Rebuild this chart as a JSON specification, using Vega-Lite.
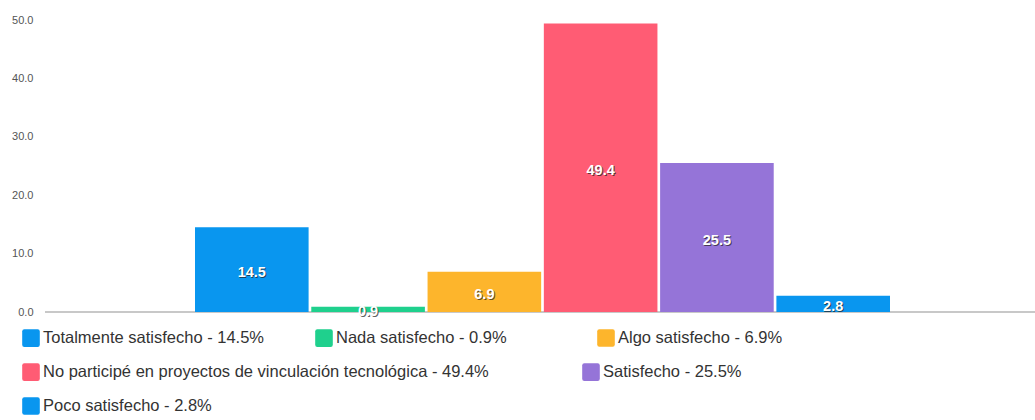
{
  "$schema": "https://vega.github.io/schema/vega-lite/v6.json",
  "autosize": {"type": "none"},
  "width": 990,
  "height": 292,
  "padding": {"left": 45, "top": 20, "right": 0, "bottom": 108},
  "background": "white",
  "config": {
    "view": {"stroke": null},
    "font": "Liberation Sans",
    "legend": {
      "title": null,
      "orient": "none",
      "direction": "horizontal",
      "padding": 0,
      "symbolType": "M -0.75 -1 H 0.75 Q 1 -1 1 -0.75 V 0.75 Q 1 1 0.75 1 H -0.75 Q -1 1 -1 0.75 V -0.75 Q -1 -1 -0.75 -1 Z",
      "symbolSize": 310,
      "symbolStrokeWidth": 0,
      "symbolOpacity": 1,
      "labelFontSize": 16.5,
      "labelColor": "#333333",
      "labelOffset": 3,
      "labelLimit": 0
    }
  },
  "data": {
    "values": [
      {"nombre": "Totalmente satisfecho", "etiqueta": "Totalmente satisfecho - 14.5%", "valor": 14.5},
      {"nombre": "Nada satisfecho", "etiqueta": "Nada satisfecho - 0.9%", "valor": 0.9},
      {"nombre": "Algo satisfecho", "etiqueta": "Algo satisfecho - 6.9%", "valor": 6.9},
      {"nombre": "No participé en proyectos de vinculación tecnológica", "etiqueta": "No participé en proyectos de vinculación tecnológica - 49.4%", "valor": 49.4},
      {"nombre": "Satisfecho", "etiqueta": "Satisfecho - 25.5%", "valor": 25.5},
      {"nombre": "Poco satisfecho", "etiqueta": "Poco satisfecho - 2.8%", "valor": 2.8}
    ]
  },
  "layer": [
    {
      "mark": {"type": "rule", "color": "#c8c8c8", "strokeWidth": 2},
      "encoding": {
        "y": {
          "datum": 0,
          "type": "quantitative",
          "scale": {"domain": [0, 50], "nice": false},
          "axis": {
            "title": null,
            "values": [0, 10, 20, 30, 40, 50],
            "format": ".1f",
            "domain": false,
            "ticks": false,
            "labelPadding": 12,
            "labelFontSize": 11,
            "labelColor": "#555555",
            "gridColor": "#ebebeb",
            "gridWidth": 1
          }
        }
      }
    },
    {
      "transform": [{"filter": {"field": "nombre", "oneOf": ["Totalmente satisfecho", "Nada satisfecho"]}}],
      "mark": {"type": "bar"},
      "encoding": {
        "x": {
          "field": "nombre",
          "type": "nominal",
          "scale": {
            "domain": ["Totalmente satisfecho", "Nada satisfecho", "Algo satisfecho", "No participé en proyectos de vinculación tecnológica", "Satisfecho", "Poco satisfecho"],
            "range": [150, 845],
            "paddingInner": 0.023,
            "paddingOuter": 0
          },
          "axis": null
        },
        "y": {"field": "valor", "type": "quantitative", "scale": {"domain": [0, 50], "nice": false}, "axis": null},
        "color": {
          "field": "etiqueta",
          "type": "nominal",
          "scale": {
            "domain": ["Totalmente satisfecho - 14.5%", "Nada satisfecho - 0.9%"],
            "range": ["#0996ef", "#1fd08d"]
          },
          "legend": {"legendX": -23, "legendY": 309, "columnPadding": 50}
        }
      }
    },
    {
      "transform": [{"filter": {"field": "nombre", "oneOf": ["Algo satisfecho"]}}],
      "mark": {"type": "bar"},
      "encoding": {
        "x": {"field": "nombre", "type": "nominal", "axis": null},
        "y": {"field": "valor", "type": "quantitative", "scale": {"domain": [0, 50], "nice": false}, "axis": null},
        "color": {
          "field": "etiqueta",
          "type": "nominal",
          "scale": {
            "domain": ["Algo satisfecho - 6.9%"],
            "range": ["#fdb52c"]
          },
          "legend": {"legendX": 552, "legendY": 309}
        }
      }
    },
    {
      "transform": [{"filter": {"field": "nombre", "oneOf": ["No participé en proyectos de vinculación tecnológica", "Satisfecho"]}}],
      "mark": {"type": "bar"},
      "encoding": {
        "x": {"field": "nombre", "type": "nominal", "axis": null},
        "y": {"field": "valor", "type": "quantitative", "scale": {"domain": [0, 50], "nice": false}, "axis": null},
        "color": {
          "field": "etiqueta",
          "type": "nominal",
          "scale": {
            "domain": ["No participé en proyectos de vinculación tecnológica - 49.4%", "Satisfecho - 25.5%"],
            "range": ["#ff5c74", "#9574d8"]
          },
          "legend": {"legendX": -23, "legendY": 343, "columnPadding": 93}
        }
      }
    },
    {
      "transform": [{"filter": {"field": "nombre", "oneOf": ["Poco satisfecho"]}}],
      "mark": {"type": "bar"},
      "encoding": {
        "x": {"field": "nombre", "type": "nominal", "axis": null},
        "y": {"field": "valor", "type": "quantitative", "scale": {"domain": [0, 50], "nice": false}, "axis": null},
        "color": {
          "field": "etiqueta",
          "type": "nominal",
          "scale": {
            "domain": ["Poco satisfecho - 2.8%"],
            "range": ["#0996ef"]
          },
          "legend": {"legendX": -23, "legendY": 377}
        }
      }
    },
    {
      "mark": {"type": "text", "color": "#222222", "opacity": 0.7, "fontSize": 14.5, "fontWeight": "bold", "baseline": "middle", "dx": 1, "dy": 4},
      "encoding": {
        "x": {"field": "nombre", "type": "nominal", "axis": null},
        "y": {"field": "valor", "type": "quantitative", "scale": {"domain": [0, 100], "nice": false}, "axis": null},
        "text": {"field": "valor", "type": "quantitative", "format": ".1f"}
      }
    },
    {
      "mark": {"type": "text", "color": "white", "fontSize": 14.5, "fontWeight": "bold", "baseline": "middle", "dy": 3},
      "encoding": {
        "x": {"field": "nombre", "type": "nominal", "axis": null},
        "y": {"field": "valor", "type": "quantitative", "scale": {"domain": [0, 100], "nice": false}, "axis": null},
        "text": {"field": "valor", "type": "quantitative", "format": ".1f"}
      }
    }
  ],
  "resolve": {"scale": {"y": "independent", "color": "independent"}}
}
